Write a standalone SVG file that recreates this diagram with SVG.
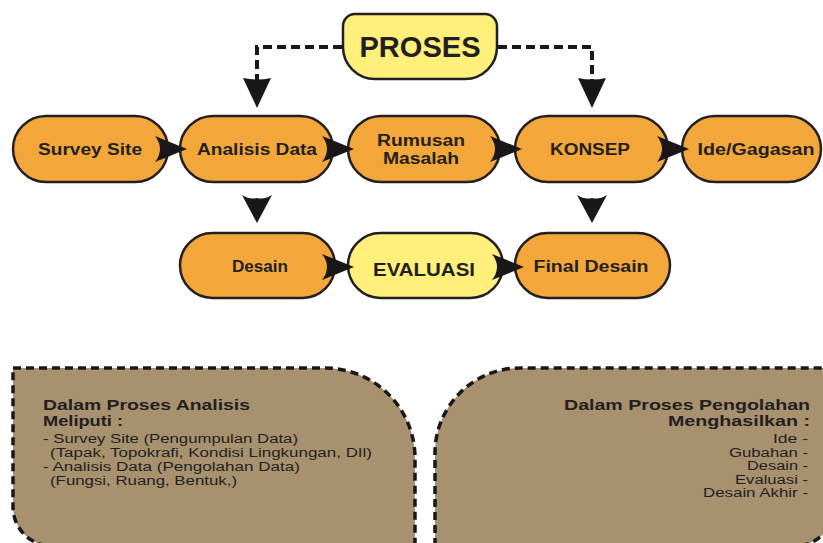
<svg xmlns="http://www.w3.org/2000/svg" xmlns:xlink="http://www.w3.org/1999/xlink" width="823" height="543" viewBox="0 0 823 543">
<defs>
<style>
.node{stroke:#231f20;stroke-width:2.5}
.org{fill:#f3a73b}
.yel{fill:#fef07b}
.box{fill:#a8916f;stroke:#1a1718;stroke-width:3.5;stroke-dasharray:8 5}
.dash{fill:none;stroke:#1a1718;stroke-width:4;stroke-dasharray:9 5}
.t{font-family:"Liberation Sans",Arial,Helvetica,sans-serif;font-weight:bold;fill:#231f20;text-anchor:middle;font-size:16px}
.b{font-family:"Liberation Sans",Arial,Helvetica,sans-serif;font-weight:bold;fill:#231f20;font-size:15px}
.r{font-family:"Liberation Sans",Arial,Helvetica,sans-serif;fill:#231f20;font-size:12.5px}
.end{text-anchor:end}
.ah{fill:#1a1718}
</style>
<path id="ar" d="M0,0 L-32,-13 Q-22,0 -32,13 Z"/>
<path id="ad" d="M0,0 L-15,-28 Q-7,-23 0,-25 Q7,-23 15,-28 Z"/>
<path id="at" d="M0,0 L-14,-30 Q0,-27 14,-30 Z"/>
</defs>
<rect width="823" height="543" fill="#ffffff"/>

<g id="box-analisis">
<path class="box" d="M13,368 H325 A90,90 0 0 1 415,458 V546 H52 A39,39 0 0 1 13,507 Z"/>
<text class="b" x="43" y="410" textLength="207" lengthAdjust="spacingAndGlyphs">Dalam Proses Analisis</text>
<text class="b" x="43" y="426" textLength="80" lengthAdjust="spacingAndGlyphs">Meliputi :</text>
<text class="r" x="43" y="443" textLength="255" lengthAdjust="spacingAndGlyphs">- Survey Site (Pengumpulan Data)</text>
<text class="r" x="50" y="457" textLength="322" lengthAdjust="spacingAndGlyphs">(Tapak, Topokrafi, Kondisi Lingkungan,  DIl)</text>
<text class="r" x="43" y="471" textLength="257" lengthAdjust="spacingAndGlyphs">- Analisis Data (Pengolahan Data)</text>
<text class="r" x="50" y="485" textLength="187" lengthAdjust="spacingAndGlyphs">(Fungsi, Ruang, Bentuk,)</text>
</g>

<g id="box-pengolahan">
<path class="box" d="M435,546 V453 A85,85 0 0 1 520,368 H835 V505 A40,40 0 0 1 795,546 Z"/>
<text class="b end" x="810" y="410" textLength="246" lengthAdjust="spacingAndGlyphs">Dalam Proses Pengolahan</text>
<text class="b end" x="810" y="426" textLength="142" lengthAdjust="spacingAndGlyphs">Menghasilkan :</text>
<text class="r end" x="808" y="443" textLength="35" lengthAdjust="spacingAndGlyphs">Ide -</text>
<text class="r end" x="808" y="457" textLength="79" lengthAdjust="spacingAndGlyphs">Gubahan -</text>
<text class="r end" x="808" y="470" textLength="61" lengthAdjust="spacingAndGlyphs">Desain -</text>
<text class="r end" x="808" y="484" textLength="73" lengthAdjust="spacingAndGlyphs">Evaluasi -</text>
<text class="r end" x="808" y="497" textLength="105" lengthAdjust="spacingAndGlyphs">Desain Akhir -</text>
</g>

<g id="proses">
<path class="node yel" d="M355,14 H485 A12,12 0 0 1 497,26 V47 A32,32 0 0 1 465,79 H375 A32,32 0 0 1 343,47 V26 A12,12 0 0 1 355,14 Z"/>
<text class="t" x="420" y="57" style="font-size:30px" textLength="121" lengthAdjust="spacingAndGlyphs">PROSES</text>
</g>

<g id="survey-site">
<rect class="node org" x="13" y="116" width="155" height="66" rx="33"/>
<text class="t" x="90" y="155" textLength="104" lengthAdjust="spacingAndGlyphs">Survey Site</text>
</g>
<g id="analisis-data">
<rect class="node org" x="180" y="116" width="153" height="66" rx="33"/>
<text class="t" x="257" y="155" textLength="120" lengthAdjust="spacingAndGlyphs">Analisis Data</text>
</g>
<g id="rumusan-masalah">
<rect class="node org" x="348" y="116" width="152" height="66" rx="33"/>
<text class="t" x="421" y="146" textLength="88" lengthAdjust="spacingAndGlyphs">Rumusan</text>
<text class="t" x="421" y="164" textLength="76" lengthAdjust="spacingAndGlyphs">Masalah</text>
</g>
<g id="konsep">
<rect class="node org" x="515" y="116" width="153" height="66" rx="33"/>
<text class="t" x="590" y="155" textLength="80" lengthAdjust="spacingAndGlyphs">KONSEP</text>
</g>
<g id="ide-gagasan">
<rect class="node org" x="682" y="116" width="139" height="66" rx="33"/>
<text class="t" x="756" y="155" textLength="117" lengthAdjust="spacingAndGlyphs">Ide/Gagasan</text>
</g>
<g id="desain">
<rect class="node org" x="180" y="233" width="155" height="65" rx="32.5"/>
<text class="t" x="260" y="272" textLength="56" lengthAdjust="spacingAndGlyphs">Desain</text>
</g>
<g id="evaluasi">
<rect class="node yel" x="348" y="233" width="155" height="65" rx="32.5"/>
<text class="t" x="424" y="276" style="font-size:18.5px" textLength="102" lengthAdjust="spacingAndGlyphs">EVALUASI</text>
</g>
<g id="final-desain">
<rect class="node org" x="515" y="233" width="155" height="65" rx="32.5"/>
<text class="t" x="591" y="272" textLength="115" lengthAdjust="spacingAndGlyphs">Final Desain</text>
</g>

<g id="connectors">
<path class="dash" d="M342,47 H257 V80"/>
<path class="dash" d="M498,47 H592 V80"/>
<use xlink:href="#at" class="ah" x="257" y="108"/>
<use xlink:href="#at" class="ah" x="592" y="108"/>
<use xlink:href="#ar" class="ah" x="187" y="149"/>
<use xlink:href="#ar" class="ah" x="354" y="149"/>
<use xlink:href="#ar" class="ah" x="522" y="149"/>
<use xlink:href="#ar" class="ah" x="689" y="149"/>
<use xlink:href="#ar" class="ah" x="354" y="267"/>
<use xlink:href="#ar" class="ah" x="524" y="267"/>
<use xlink:href="#ad" class="ah" x="257" y="223"/>
<use xlink:href="#ad" class="ah" x="592" y="223"/>
</g>
</svg>
